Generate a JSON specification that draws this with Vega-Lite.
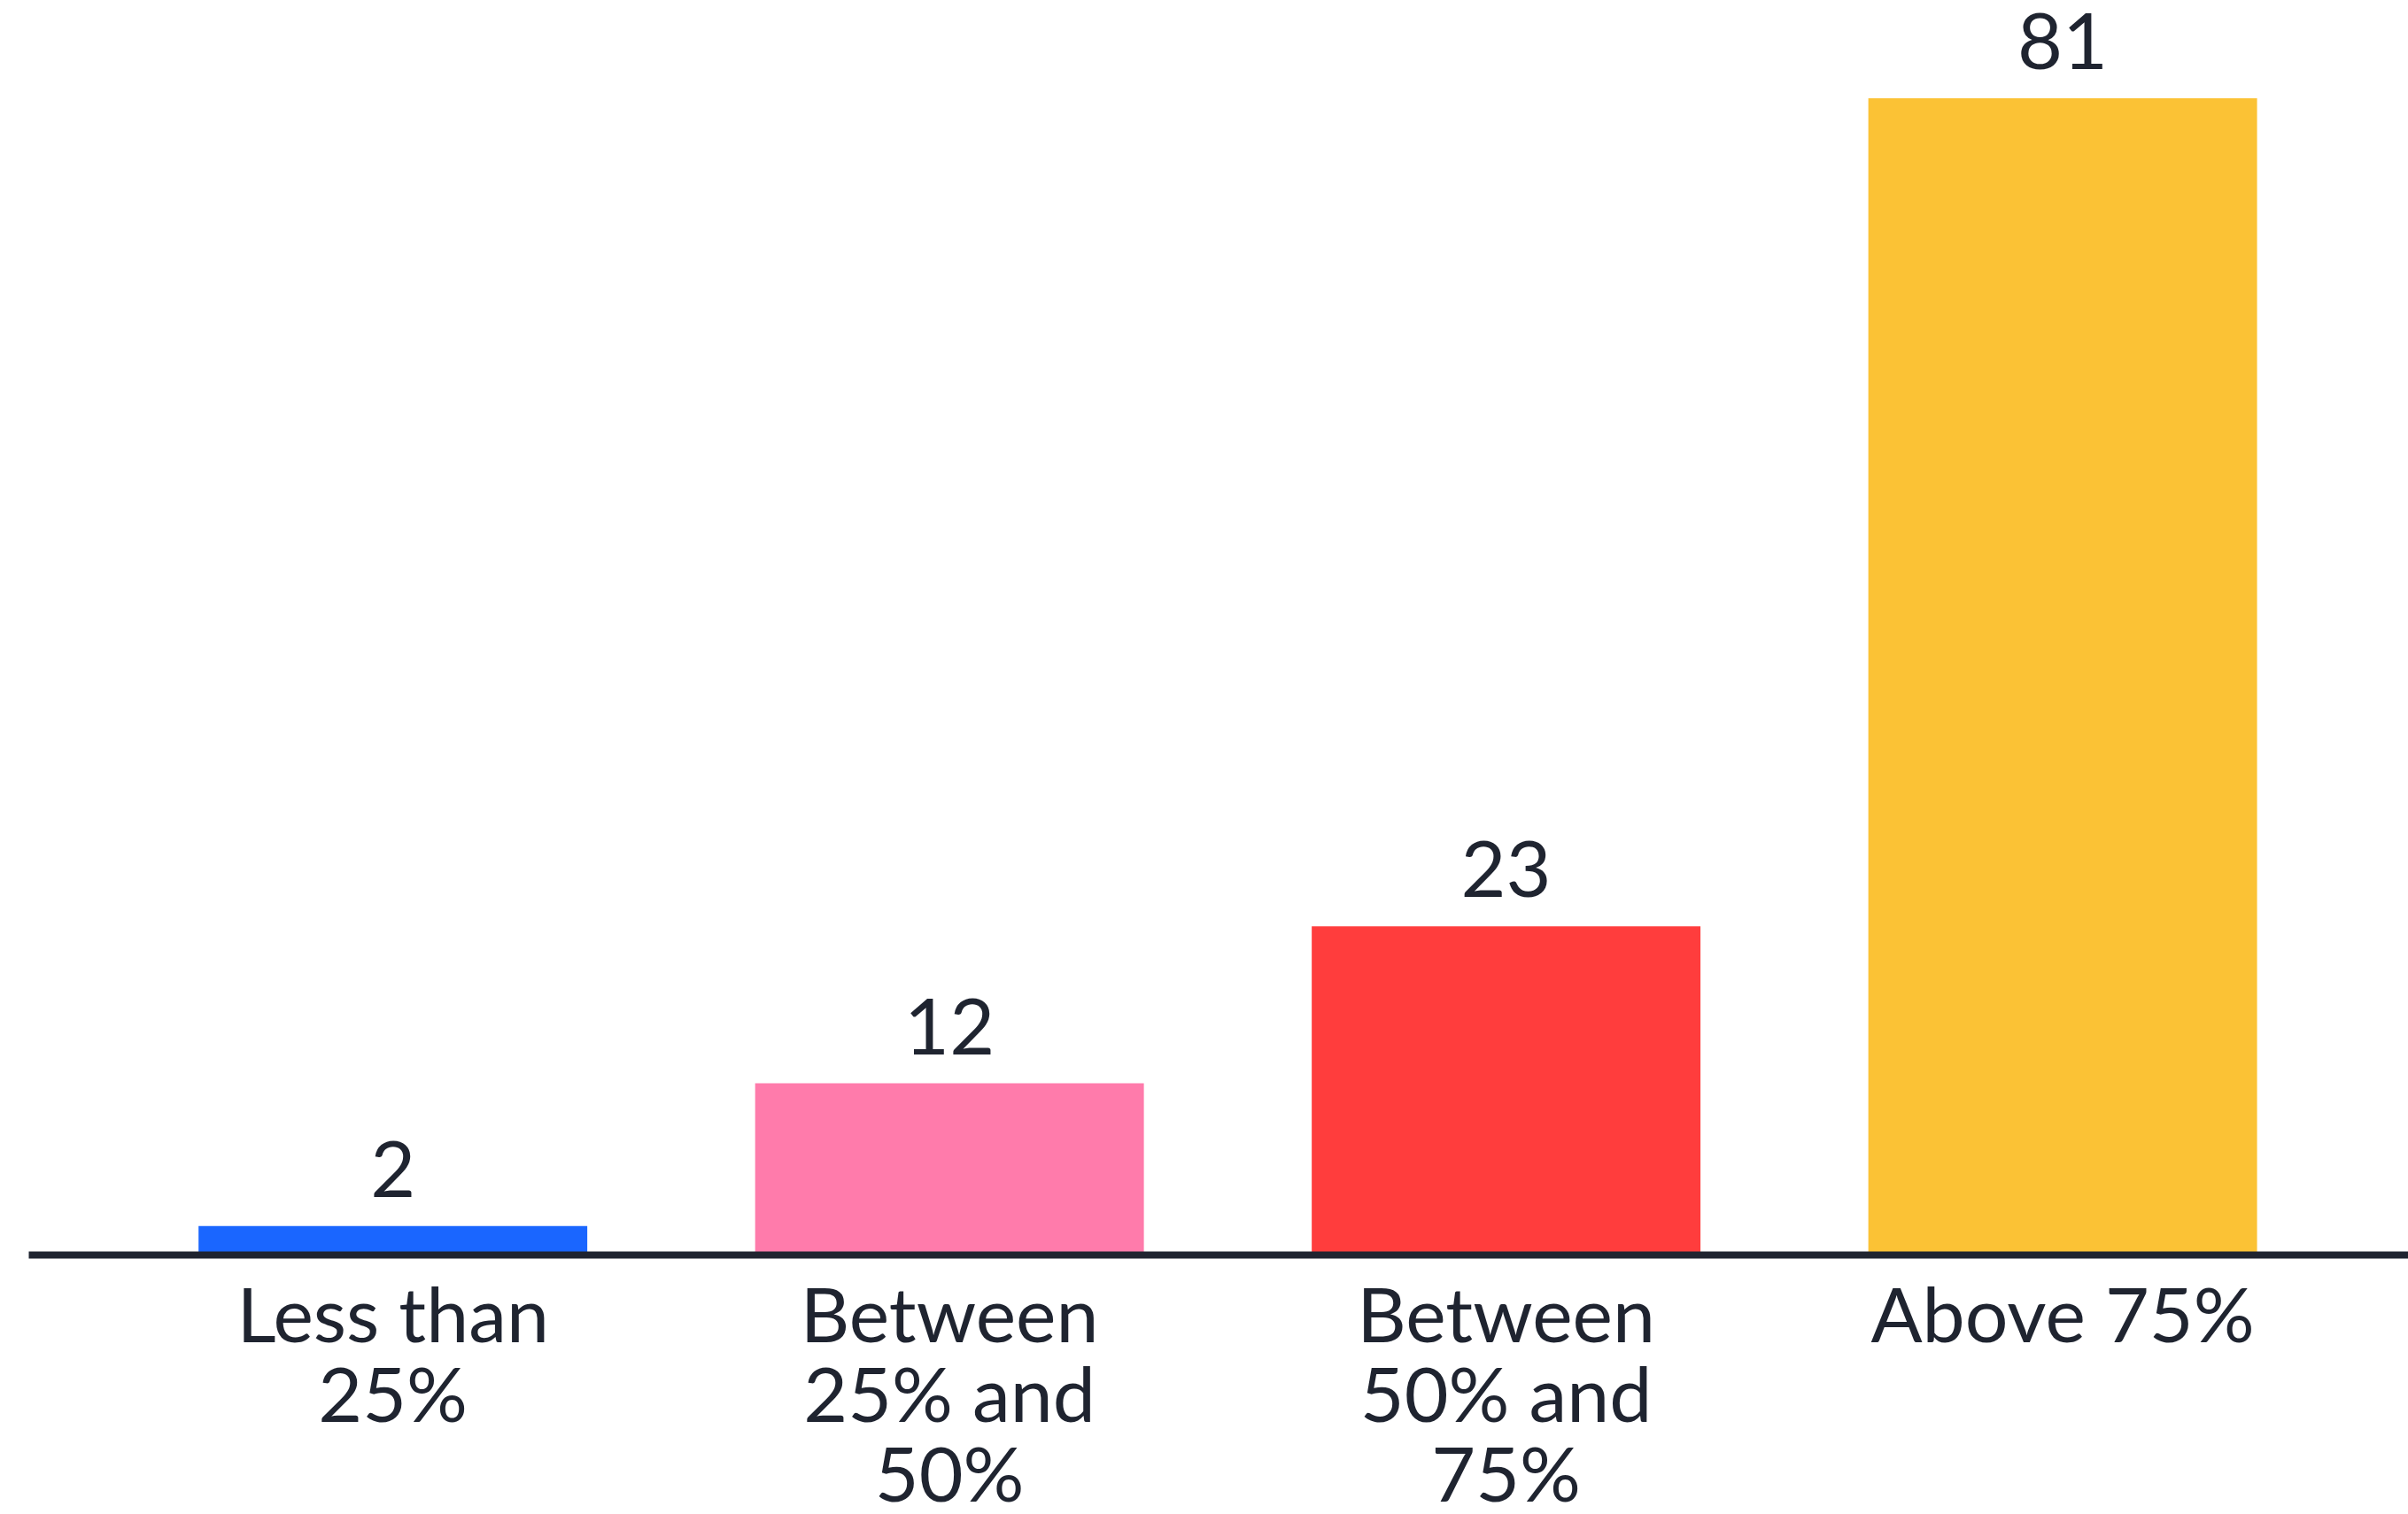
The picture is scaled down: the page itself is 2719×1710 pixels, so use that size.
{
  "$schema": "https://vega.github.io/schema/vega-lite/v6.json",
  "width": 2687,
  "height": 1306,
  "autosize": {"type": "none"},
  "padding": {"left": 32, "top": 111, "right": 0, "bottom": 293},
  "background": "#ffffff",
  "config": {"view": {"stroke": null}, "font": "Lato"},
  "data": {
    "values": [
      {"category": "Less than 25%", "value": 2},
      {"category": "Between 25% and 50%", "value": 12},
      {"category": "Between 50% and 75%", "value": 23},
      {"category": "Above 75%", "value": 81}
    ]
  },
  "encoding": {
    "x": {
      "field": "category",
      "type": "nominal",
      "sort": null,
      "scale": {"paddingInner": 0.3016, "paddingOuter": 0.2885, "align": 0.53},
      "axis": {
        "title": null,
        "labelAngle": 0,
        "ticks": false,
        "domainColor": "#1f2430",
        "domainWidth": 8,
        "labelColor": "#1f2430",
        "labelFont": "Lato",
        "labelFontSize": 86,
        "labelLineHeight": 90,
        "labelPadding": 30,
        "labelLimit": 0,
        "labelBaseline": "top",
        "zindex": 1,
        "labelExpr": "datum.label == 'Less than 25%' ? ['Less than', '25%'] : datum.label == 'Between 25% and 50%' ? ['Between', '25% and', '50%'] : datum.label == 'Between 50% and 75%' ? ['Between', '50% and', '75%'] : datum.label"
      }
    },
    "y": {
      "field": "value",
      "type": "quantitative",
      "scale": {"domain": [0, 81], "nice": false},
      "axis": null
    }
  },
  "layer": [
    {
      "mark": {"type": "bar"},
      "encoding": {
        "color": {
          "field": "category",
          "type": "nominal",
          "sort": null,
          "scale": {
            "domain": ["Less than 25%", "Between 25% and 50%", "Between 50% and 75%", "Above 75%"],
            "range": ["#1a66ff", "#ff7bab", "#ff3d3d", "#fbc235"]
          },
          "legend": null
        }
      }
    },
    {
      "mark": {"type": "text", "baseline": "alphabetic", "dy": -33, "fontSize": 88, "color": "#1f2430", "font": "Lato"},
      "encoding": {"text": {"field": "value", "type": "quantitative"}}
    }
  ]
}
